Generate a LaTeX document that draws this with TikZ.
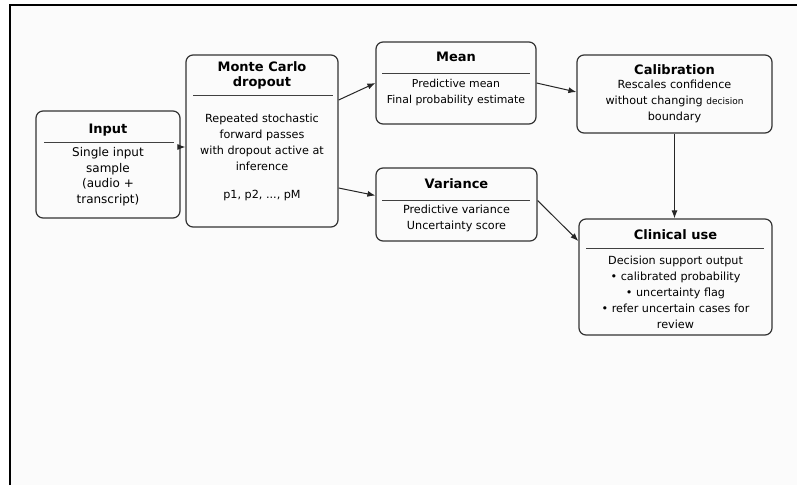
\documentclass[tikz,border=0pt]{standalone}
\usepackage{fontspec}
\setmainfont{DejaVu Sans}
\usetikzlibrary{arrows.meta}

\begin{document}
\begin{tikzpicture}[x=1pt,y=-1pt,
	box/.style={draw=black!80, line width=1.2pt, rounded corners=7pt},
	title/.style={font=\bfseries\fontsize{13}{15}\selectfont, align=center, inner sep=0},
	body/.style={font=\fontsize{11.2}{16}\selectfont, align=center, inner sep=0},
	sep/.style={draw=black!75, line width=0.8pt},
	arr/.style={-{Latex[length=8pt,width=6pt]}, line width=1pt, draw=black!85}
]
\useasboundingbox (0,0) rectangle (797,485);
\fill[gray!3] (10,5) rectangle (797,485);
\draw[line width=2.5pt] (10,485) -- (10,5) -- (797,5);

% boxes
\node[box, minimum width=144, minimum height=107] (inp) at (108,164.5) {};
\node[box, minimum width=152, minimum height=172] (mcd) at (262,141) {};
\node[box, minimum width=160, minimum height=82] (mean) at (456,83) {};
\node[box, minimum width=161, minimum height=73] (var) at (456.5,204.5) {};
\node[box, minimum width=195, minimum height=78] (calib) at (674.5,94) {};
\node[box, minimum width=193, minimum height=116] (clin) at (675.5,277) {};

% titles
\node[title] (inpT) at (108,130) {Input};
\node[title] (mcdT) at (262,75.5) {Monte Carlo\\dropout};
\node[title] (meanT) at (456,57) {Mean};
\node[title] (varT) at (456.5,184) {Variance};
\node[title] (calibT) at (674.5,70) {Calibration};
\node[title] (clinT) at (675.5,235) {Clinical use};

% rules
\draw[sep] (44,142) -- (174,142);
\draw[sep] (193,95) -- (333,95);
\draw[sep] (382,73) -- (530,73);
\draw[sep] (382,200) -- (530,200);
\draw[sep] (586,248) -- (764,248);

% texts
\node[body, font=\fontsize{12}{15.6}\selectfont] (inpB) at (108,176.5) {Single input\\sample\\(audio +\\transcript)};
\node[body] (mcdB) at (262,157) {Repeated stochastic\\forward passes\\with dropout active at\\inference\\[12pt]p1, p2, ..., pM};
\node[body, font=\fontsize{10.9}{16}\selectfont] (meanB) at (456,92) {Predictive mean\\Final probability estimate};
\node[body] (varB) at (456.5,218.5) {Predictive variance\\Uncertainty score};
\node[body] (calibB) at (674.5,101.5) {Rescales confidence\\without changing {\fontsize{9}{16}\selectfont decision}\\boundary};
\node[body] (clinB) at (675.5,292) {Decision support output\\• calibrated probability\\• uncertainty flag\\• refer uncertain cases for\\review};

% arrows
\draw[arr] ([yshift=17.5]inp.east) -- ([yshift=17.5]inp.east -| mcd.west);
\draw[arr] ([yshift=41]mcd.east) -- (mean.west);
\draw[arr] ([yshift=-47]mcd.east) -- ([yshift=9]var.west);
\draw[arr] (mean.east) -- ([yshift=2]calib.west);
\draw[arr] (calib.south) -- (calib.south |- clin.north);
\draw[arr] ([yshift=4]var.east) -- ([yshift=36]clin.west);
\end{tikzpicture}
\end{document}
